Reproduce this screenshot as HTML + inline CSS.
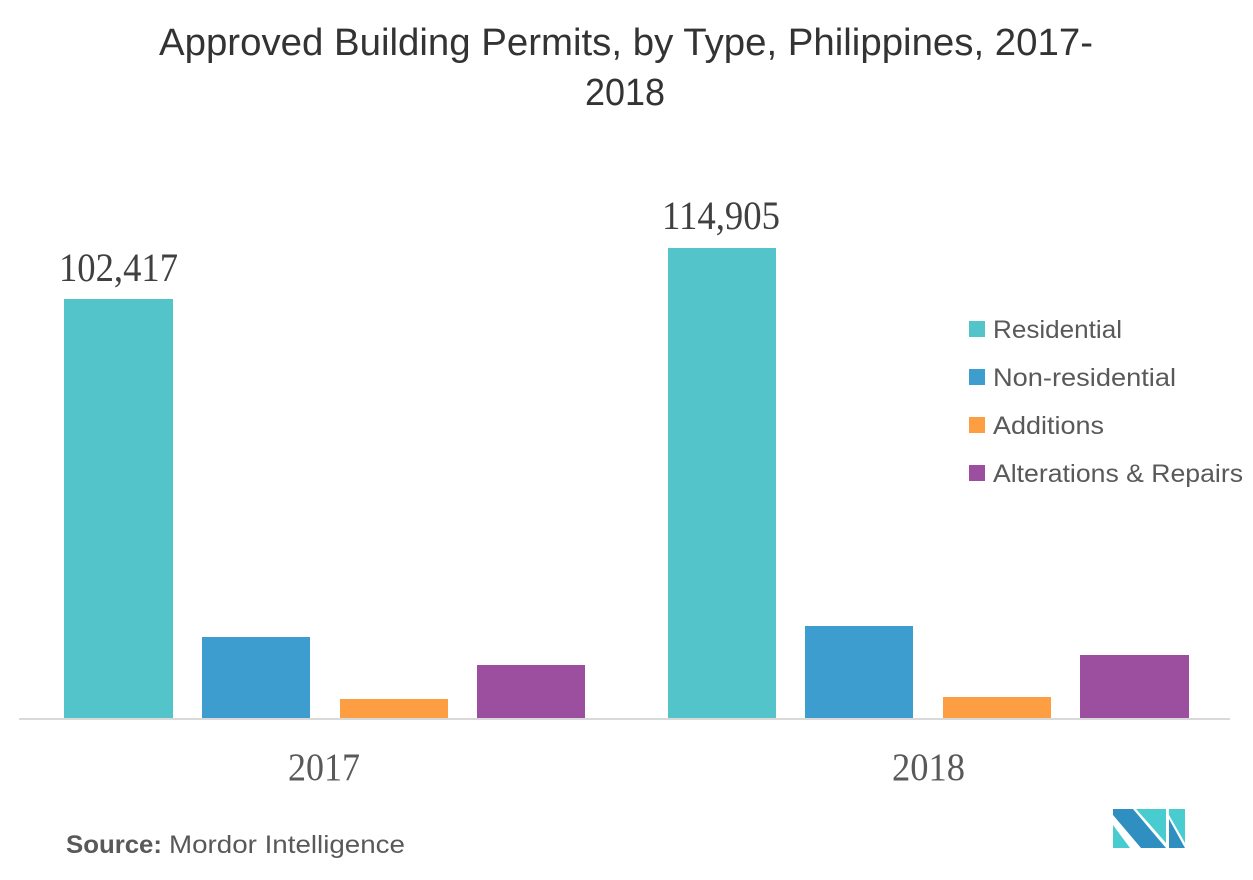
<!DOCTYPE html>
<html>
<head>
<meta charset="utf-8">
<style>
  html, body { margin: 0; padding: 0; background: #ffffff; }
  svg { display: block; }
</style>
</head>
<body>
<svg width="1253" height="880" viewBox="0 0 1253 880" xmlns="http://www.w3.org/2000/svg">
  <rect width="1253" height="880" fill="#ffffff"/>

  <!-- Title -->
  <text x="159" y="55" font-family="'Liberation Sans', sans-serif" font-size="38" fill="#333333" textLength="934" lengthAdjust="spacingAndGlyphs">Approved Building Permits, by Type, Philippines, 2017-</text>
  <text x="585" y="105" font-family="'Liberation Sans', sans-serif" font-size="38" fill="#333333" textLength="80" lengthAdjust="spacingAndGlyphs">2018</text>

  <!-- Bars 2017 -->
  <rect x="64" y="299" width="109" height="420" fill="#52C4CA"/>
  <rect x="202" y="637" width="108" height="82" fill="#3D9DCE"/>
  <rect x="340" y="699" width="108" height="20" fill="#FD9E43"/>
  <rect x="477" y="665" width="108" height="54" fill="#9C4F9E"/>

  <!-- Bars 2018 -->
  <rect x="668" y="248" width="108" height="471" fill="#52C4CA"/>
  <rect x="805" y="626" width="108" height="93" fill="#3D9DCE"/>
  <rect x="943" y="697" width="108" height="22" fill="#FD9E43"/>
  <rect x="1080" y="655" width="109" height="64" fill="#9C4F9E"/>

  <!-- Axis line -->
  <rect x="19" y="718" width="1211" height="2" fill="#d9d9d9"/>

  <!-- Value labels -->
  <text x="59" y="281" font-family="'Liberation Serif', serif" font-size="40" fill="#404040" textLength="119" lengthAdjust="spacingAndGlyphs">102,417</text>
  <text x="662" y="229" font-family="'Liberation Serif', serif" font-size="40" fill="#404040" textLength="118" lengthAdjust="spacingAndGlyphs">114,905</text>

  <!-- Category labels -->
  <text x="288" y="780" font-family="'Liberation Serif', serif" font-size="39" fill="#595959" textLength="72" lengthAdjust="spacingAndGlyphs">2017</text>
  <text x="892" y="780" font-family="'Liberation Serif', serif" font-size="39" fill="#595959" textLength="73" lengthAdjust="spacingAndGlyphs">2018</text>

  <!-- Legend -->
  <rect x="969" y="321" width="16" height="16" fill="#52C4CA"/>
  <text x="993" y="338" font-family="'Liberation Sans', sans-serif" font-size="25" fill="#595959" textLength="129" lengthAdjust="spacingAndGlyphs">Residential</text>
  <rect x="969" y="369" width="16" height="16" fill="#3D9DCE"/>
  <text x="993" y="386" font-family="'Liberation Sans', sans-serif" font-size="25" fill="#595959" textLength="183" lengthAdjust="spacingAndGlyphs">Non-residential</text>
  <rect x="969" y="417" width="16" height="16" fill="#FD9E43"/>
  <text x="993" y="434" font-family="'Liberation Sans', sans-serif" font-size="25" fill="#595959" textLength="111" lengthAdjust="spacingAndGlyphs">Additions</text>
  <rect x="969" y="465" width="16" height="16" fill="#9C4F9E"/>
  <text x="993" y="482" font-family="'Liberation Sans', sans-serif" font-size="25" fill="#595959" textLength="250" lengthAdjust="spacingAndGlyphs">Alterations &amp; Repairs</text>

  <!-- Source -->
  <text x="66" y="853" font-family="'Liberation Sans', sans-serif" font-size="25" font-weight="bold" fill="#595959" textLength="96" lengthAdjust="spacingAndGlyphs">Source:</text>
  <text x="169" y="853" font-family="'Liberation Sans', sans-serif" font-size="25" fill="#595959" textLength="236" lengthAdjust="spacingAndGlyphs">Mordor Intelligence</text>

  <!-- Logo -->
  <g>
    <polygon points="1113,825 1113,848 1130,848" fill="#48CCD0"/>
    <polygon points="1113,809 1133,809 1166,848 1141,848 1113,815" fill="#2E8FC0"/>
    <polygon points="1136,809 1166,809 1166,843" fill="#48CCD0"/>
    <polygon points="1169,809 1185,809 1185,843 1169,815" fill="#48CCD0"/>
    <polygon points="1169,819 1185,848 1169,848" fill="#2E8FC0"/>
  </g>
</svg>
</body>
</html>
